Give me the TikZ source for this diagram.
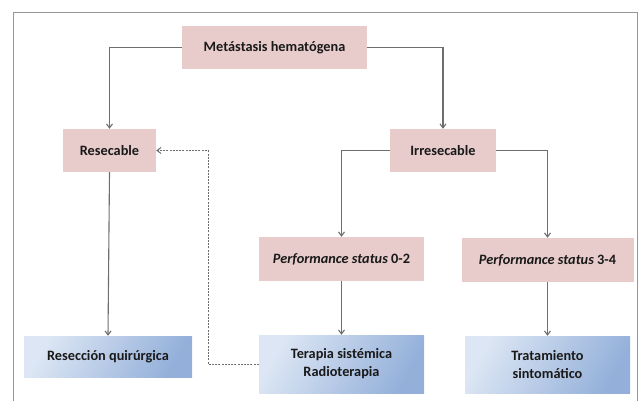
\documentclass[tikz,border=0pt]{standalone}
\usepackage{fontspec}
\setmainfont{Carlito}
\usetikzlibrary{arrows.meta}
\definecolor{pinkbox}{RGB}{232,204,204}
\definecolor{bluelight}{RGB}{220,230,244}
\definecolor{bluedark}{RGB}{148,176,218}
\definecolor{linegray}{RGB}{110,110,110}
\definecolor{framegray}{RGB}{150,150,150}
\tikzset{
  pbox/.style={fill=pinkbox, draw=none, inner sep=0pt, align=center, font=\fontsize{14.3}{16}\selectfont\bfseries, text=black!90},
  bbox/.style={draw=none, inner sep=0pt, align=center, font=\fontsize{14.3}{18}\selectfont\bfseries, text=black!90,
     left color=bluelight, right color=bluedark, shading angle=60},
  conn/.style={draw=linegray, line width=1.1pt, -{Straight Barb[length=4pt,width=6pt]}},
  dconn/.style={draw=linegray, line width=1pt, dash pattern=on 2pt off 1.2pt, -{Straight Barb[length=4pt,width=6pt]}}
}
\begin{document}
\begin{tikzpicture}[x=1pt,y=-1pt]
\useasboundingbox (0,0) rectangle (639,400);
\draw[framegray, line width=1pt] (13,405) -- (13,12) -- (637,12) -- (637,405);
\node[pbox, minimum width=185pt, minimum height=43pt] (met) at (274.5,47.5) {Metástasis hematógena};
\node[pbox, minimum width=93pt, minimum height=43pt] (res) at (109.5,150.5) {Resecable};
\node[pbox, minimum width=106pt, minimum height=43pt] (irr) at (443,150.5) {Irresecable};
\node[pbox, minimum width=165pt, minimum height=44pt] (ps02) at (341.5,259) {\textit{Performance status} 0-2};
\node[pbox, minimum width=172pt, minimum height=44pt] (ps34) at (547.5,260) {\textit{Performance status} 3-4};
\node[bbox, minimum width=168pt, minimum height=41pt] (resq) at (108,356.5) {Resección quirúrgica};
\node[bbox, minimum width=165pt, minimum height=58pt] (ter) at (341.5,364) {Terapia sistémica\\Radioterapia};
\node[bbox, minimum width=165pt, minimum height=57pt] (tra) at (547.5,364.5) {Tratamiento\\sintomático};
\coordinate (dc) at (208,364);
\draw[conn] (met.west) -| (res.north);
\draw[conn] (met.east) -| (irr.north);
\draw[conn] (irr.west) -| (ps02.north);
\draw[conn] (irr.east) -| (ps34.north);
\draw[conn] (res.south) -- (resq.north);
\draw[conn] (ps02.south) -- (ter.north);
\draw[conn] (ps34.south) -- (tra.north);
\draw[dconn] (ter.west) -- (dc) |- (res.east);
\end{tikzpicture}
\end{document}
